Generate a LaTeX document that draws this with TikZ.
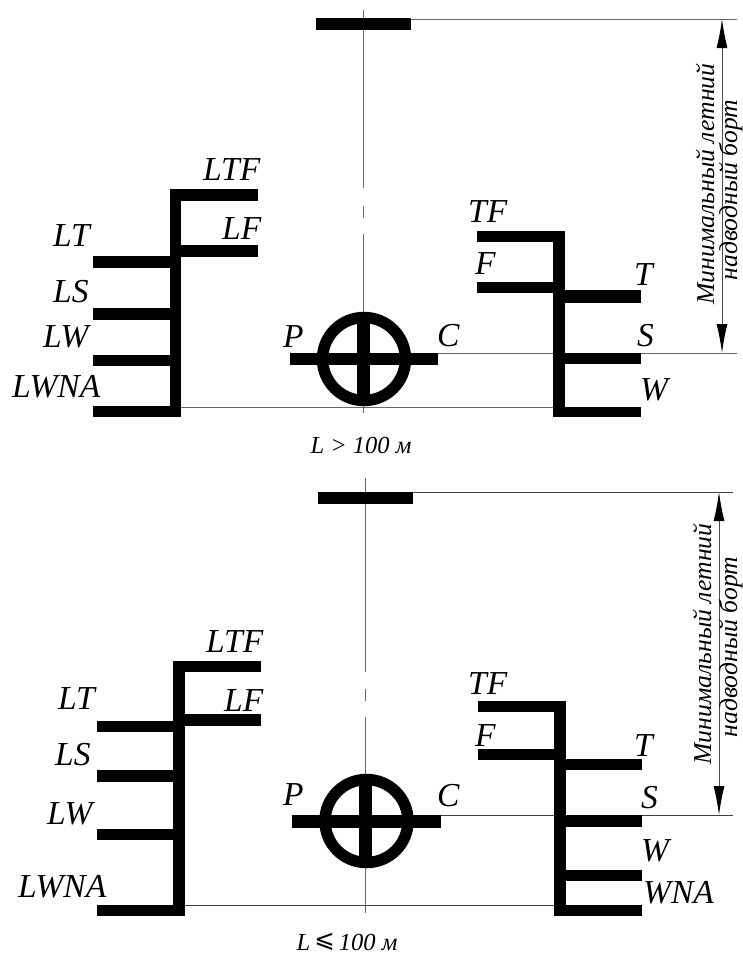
\documentclass[tikz,border=0pt]{standalone}
\usepackage{fontspec}
\setmainfont{Liberation Serif}
\newfontfamily\symfont{DejaVu Sans}
\usetikzlibrary{arrows.meta}
\tikzset{
  heavy/.style={fill=black,draw=none},
  ring/.style={draw=black,line width=11.5pt},
  thinline/.style={draw=black!60,line width=1pt},
  thinlinedark/.style={draw=black!75,line width=1pt},
  dim/.style={draw=black!70,line width=1pt,{Latex[length=29pt,width=11pt,black]}-{Latex[length=29pt,width=11pt,black]}},
  lab/.style={anchor=base west,inner sep=0pt,font=\fontsize{33.5}{34}\selectfont\itshape},
  captext/.style={anchor=base,inner sep=0pt,font=\fontsize{24.5}{25}\selectfont\itshape},
  vert/.style={anchor=base,inner sep=0pt,rotate=90,font=\fontsize{25.7}{26}\selectfont\itshape}
}
\newcommand{\hb}[4]{\fill[heavy] (#1,#2) rectangle (#3,#4);}
\begin{document}
\begin{tikzpicture}[x=1pt,y=-1pt]
\useasboundingbox (0,0) rectangle (743,956);
\fill[white] (0,0) rectangle (743,956);
% ---- upper figure ----
\coordinate (a1) at (363.5,10); \coordinate (a2) at (363.5,188);
\coordinate (a3) at (363.5,206); \coordinate (a4) at (363.5,218);
\coordinate (a5) at (363.5,234); \coordinate (a6) at (363.5,413);
\draw[thinline] (a1) -- (a2); \draw[thinline] (a3) -- (a4); \draw[thinline] (a5) -- (a6);
\coordinate (b1) at (411,19); \coordinate (b2) at (737,19);
\coordinate (c1) at (438,353); \coordinate (c2) at (737,353);
\coordinate (d1) at (181,407); \coordinate (d2) at (555,407);
\draw[thinline] (b1) -- (b2); \draw[thinline] (c1) -- (c2); \draw[thinline] (d1) -- (d2);
\coordinate (e1) at (722,19); \coordinate (e2) at (722,353);
\draw[dim] (e1) -- (e2);
\hb{316}{18}{411}{30}
\hb{170}{189}{181}{417}
\hb{170}{189}{258}{201}
\hb{181}{245}{258}{257}
\hb{93}{256}{170}{268}
\hb{93}{308}{170}{320}
\hb{93}{355}{170}{366}
\hb{93}{406}{181}{417}
\draw[ring] (364,359) circle (41.5);
\hb{357}{314}{370}{404}
\hb{290}{353}{438}{365}
\hb{553}{231}{565}{417}
\hb{477}{231}{565}{242}
\hb{477}{282}{553}{293}
\hb{565}{290}{641}{303}
\hb{565}{353}{641}{364}
\hb{565}{407}{641}{417}
\node[lab] (ltf1) at (203,180) {LTF};
\node[lab] (lf1) at (222,239) {LF};
\node[lab] (lt1) at (53,246) {LT};
\node[lab] (ls1) at (53,302) {LS};
\node[lab] (lw1) at (43,347) {LW};
\node[lab] (lwna1) at (12,397) {LWNA};
\node[lab] (p1) at (283,347) {P};
\node[lab] (c1t) at (437,346) {C};
\node[lab] (tf1) at (468,222) {TF};
\node[lab] (f1) at (475,274) {F};
\node[lab] (t1) at (634,285) {T};
\node[lab] (s1) at (637,346) {S};
\node[lab] (w1) at (640,400) {W};
\node[captext] (cap1) at (361,453) {L > 100 м};
\node[vert] (v11) at (714,184) {Минимальный летний};
\node[vert] (v12) at (737,190) {надводный борт};
% ---- lower figure ----
\coordinate (f1a) at (365.7,478); \coordinate (f2a) at (365.7,672);
\coordinate (f3a) at (365.7,689); \coordinate (f4a) at (365.7,701);
\coordinate (f5a) at (365.7,717); \coordinate (f6a) at (365.7,913);
\draw[thinline] (f1a) -- (f2a); \draw[thinline] (f3a) -- (f4a); \draw[thinline] (f5a) -- (f6a);
\coordinate (g1) at (413,492); \coordinate (g2) at (733,492);
\coordinate (h1) at (441,815); \coordinate (h2) at (733,815);
\coordinate (i1) at (185,905); \coordinate (i2) at (555,905);
\draw[thinlinedark] (g1) -- (g2); \draw[thinlinedark] (h1) -- (h2); \draw[thinlinedark] (i1) -- (i2);
\coordinate (j1) at (719,492); \coordinate (j2) at (719,815);
\draw[dim] (j1) -- (j2);
\hb{318}{492}{413}{504}
\hb{173}{661}{185}{916}
\hb{173}{661}{261}{672}
\hb{185}{714}{261}{726}
\hb{97}{721}{173}{732}
\hb{97}{770}{173}{782}
\hb{97}{829}{173}{840}
\hb{97}{905}{185}{916}
\draw[ring] (366.5,821) circle (41.5);
\hb{359}{776}{372}{866}
\hb{292}{815}{441}{828}
\hb{554}{701}{566}{916}
\hb{478}{701}{566}{712}
\hb{478}{749}{554}{760}
\hb{566}{759}{642}{770}
\hb{566}{815}{642}{827}
\hb{566}{870}{642}{881}
\hb{566}{905}{642}{916}
\node[lab] (ltf2) at (206,652) {LTF};
\node[lab] (lf2) at (224,711) {LF};
\node[lab] (lt2) at (58,709) {LT};
\node[lab] (ls2) at (55,765) {LS};
\node[lab] (lw2) at (47,824) {LW};
\node[lab] (lwna2) at (18,897) {LWNA};
\node[lab] (p2) at (283,805) {P};
\node[lab] (c2t) at (437,806) {C};
\node[lab] (tf2) at (468,694) {TF};
\node[lab] (f2) at (475,746) {F};
\node[lab] (t2) at (634,756) {T};
\node[lab] (s2) at (641,808) {S};
\node[lab] (w2) at (641,861) {W};
\node[lab] (wna2) at (643,903) {WNA};
\node[captext] (cap2) at (347,950) {L\,\raisebox{3pt}{\symfont\upshape ⩽}\,100 м};
\node[vert] (v21) at (711,644) {Минимальный летний};
\node[vert] (v22) at (737,647) {надводный борт};
\end{tikzpicture}
\end{document}
